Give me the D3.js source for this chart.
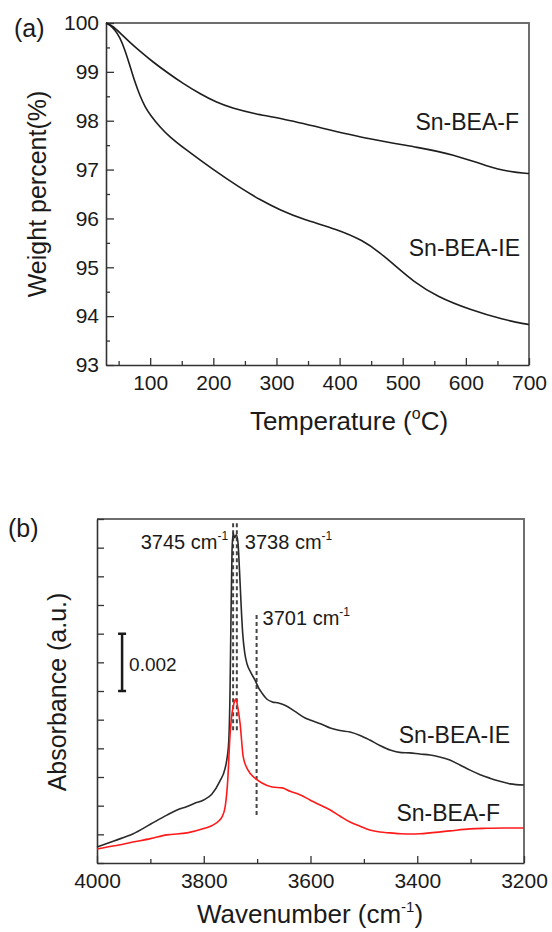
<!DOCTYPE html>
<html>
<head>
<meta charset="utf-8">
<script src="https://cdn.jsdelivr.net/npm/d3@7"></script>
<style>
  body { margin: 0; background: #fff; }
  svg text { font-family: "Liberation Sans", Arial, sans-serif; fill: #1a1a1a; }
</style>
</head>
<body>
<svg width="552" height="932"></svg>
<script>
// ---- panel (a): TGA ----
var tempF = [30, 39.5, 52, 68, 84, 104.5, 126.6, 152, 179, 204, 231, 266, 306, 369, 448, 527, 580, 633, 670, 698.5, 700];
var wtF   = [100, 99.95, 99.8, 99.6, 99.42, 99.2, 98.99, 98.76, 98.55, 98.38, 98.25, 98.14, 98.05, 97.86, 97.62, 97.45, 97.31, 97.07, 96.95, 96.92, 96.92];

var tempIE = [30, 36, 44, 52, 60, 68, 76, 84, 92, 100, 116, 131, 152, 199.5, 242, 274, 306, 342, 396, 437, 464, 491, 516, 554, 607, 659, 697, 700];
var wtIE   = [100, 99.96, 99.86, 99.71, 99.45, 99.12, 98.78, 98.5, 98.28, 98.12, 97.86, 97.67, 97.45, 97.0, 96.63, 96.38, 96.17, 95.98, 95.78, 95.55, 95.3, 95.0, 94.72, 94.4, 94.13, 93.93, 93.83, 93.83];

var tempTicks = [100, 200, 300, 400, 500, 600, 700];
var tempMinor = [50, 150, 250, 350, 450, 550, 650];
var wtTicks = [93, 94, 95, 96, 97, 98, 99, 100];
var wtMinor = [93.5, 94.5, 95.5, 96.5, 97.5, 98.5, 99.5];

// ---- panel (b): FTIR (absorbance in a.u.) ----
var wnIE  = [4000, 3967, 3933, 3900, 3869, 3850, 3831, 3816, 3800, 3785, 3770, 3760, 3756, 3753, 3751, 3749, 3747, 3745, 3742, 3739, 3736, 3733, 3730, 3727, 3723, 3719, 3712, 3704, 3697, 3691, 3682, 3672, 3660, 3648, 3630, 3610, 3601, 3580, 3563, 3545, 3526, 3507, 3489, 3470, 3451, 3430, 3414, 3395, 3376, 3358, 3339, 3320, 3301, 3282, 3264, 3245, 3226, 3200];
var absIE = [0.56, 0.78, 1.01, 1.35, 1.67, 1.85, 1.97, 2.09, 2.2, 2.4, 2.85, 3.3, 3.7, 4.3, 5.7, 8.5, 10.9, 11.5, 11.35, 11.45, 11.2, 10.2, 9.0, 8.0, 7.3, 6.95, 6.65, 6.38, 6.1, 5.93, 5.72, 5.62, 5.58, 5.5, 5.3, 5.06, 4.99, 4.85, 4.71, 4.62, 4.57, 4.45, 4.29, 4.1, 3.94, 3.85, 3.84, 3.8, 3.77, 3.7, 3.59, 3.42, 3.24, 3.08, 2.96, 2.85, 2.76, 2.72];

var wnF  = [4000, 3967, 3933, 3900, 3869, 3831, 3800, 3785, 3770, 3766, 3760, 3755, 3751, 3747, 3743, 3740, 3736, 3732, 3726, 3717, 3704, 3691, 3672, 3653, 3638, 3620, 3601, 3583, 3563, 3545, 3526, 3507, 3489, 3470, 3451, 3430, 3414, 3395, 3376, 3339, 3301, 3270, 3239, 3200];
var absF = [0.49, 0.6, 0.73, 0.85, 0.98, 1.05, 1.2, 1.3, 1.5, 1.6, 1.95, 2.9, 4.39, 5.23, 5.6, 5.72, 5.4, 4.88, 3.7, 3.24, 2.96, 2.79, 2.65, 2.62, 2.5, 2.38, 2.2, 2.03, 1.85, 1.64, 1.43, 1.28, 1.15, 1.08, 1.05, 1.02, 1.01, 1.02, 1.05, 1.12, 1.19, 1.21, 1.22, 1.22];

var wnTicks = [4000, 3800, 3600, 3400, 3200];
var wnMinor = [3900, 3700, 3500, 3300];
var absTicks = d3.range(0, 13); // every 0.001, unlabeled

var peakWn = [3745, 3738, 3701];
var peakLabels = ["3745", "3738", "3701"];
var dashTop = [11.85, 11.85, 8.65];
var dashBottom = [4.53, 4.53, 1.6];

var svg = d3.select('svg');

function frame(x0, x1, y0, y1) {
	svg.append('path')
		.attr('d', `M${x0},${y0}H${x1}V${y1}`)
		.attr('fill', 'none')
		.attr('stroke', '#6e6e6e')
		.attr('stroke-width', 2);
}

function styleAxis(g) {
	g.selectAll('.domain').attr('stroke', '#333').attr('stroke-width', 1.6);
	g.selectAll('.tick line').attr('stroke', '#333').attr('stroke-width', 1.3);
	g.selectAll('.tick text').attr('font-size', 21).attr('font-family', '"Liberation Sans", Arial, sans-serif').attr('fill', '#1a1a1a');
}

// ================= (a) =================
var ax = {left: 106, right: 529, top: 23, bottom: 365};
var xA = d3.scaleLinear().domain([30, 700]).range([ax.left, ax.right]);
var yA = d3.scaleLinear().domain([93, 100]).range([ax.bottom, ax.top]);

frame(ax.left, ax.right, ax.top, ax.bottom);

var gyA = svg.append('g').attr('transform', `translate(${ax.left},0)`)
	.call(d3.axisLeft(yA).tickValues(wtTicks).tickSize(-8).tickSizeOuter(0).tickPadding(7).tickFormat(d3.format('d')));
styleAxis(gyA);
svg.append('g').attr('transform', `translate(${ax.left},0)`)
	.call(d3.axisLeft(yA).tickValues(wtMinor).tickSize(-4).tickFormat(''))
	.call(g => { g.select('.domain').remove(); g.selectAll('line').attr('stroke', '#333').attr('stroke-width', 1.3); });

var gxA = svg.append('g').attr('transform', `translate(0,${ax.bottom})`)
	.call(d3.axisBottom(xA).tickValues(tempTicks).tickSize(-7).tickSizeOuter(0).tickPadding(10));
styleAxis(gxA);
svg.append('g').attr('transform', `translate(0,${ax.bottom})`)
	.call(d3.axisBottom(xA).tickValues(tempMinor).tickSize(-4).tickFormat(''))
	.call(g => { g.select('.domain').remove(); g.selectAll('line').attr('stroke', '#333').attr('stroke-width', 1.3); });

var lineA = d3.line().x(d => xA(d[0])).y(d => yA(d[1])).curve(d3.curveBasis);
svg.append('path').datum(d3.zip(tempF, wtF))
	.attr('d', lineA).attr('fill', 'none').attr('stroke', '#1e1e1e').attr('stroke-width', 1.6);
svg.append('path').datum(d3.zip(tempIE, wtIE))
	.attr('d', lineA).attr('fill', 'none').attr('stroke', '#1e1e1e').attr('stroke-width', 1.6);

svg.append('text').attr('x', 519).attr('y', 130).attr('text-anchor', 'end').attr('font-size', 23).text('Sn-BEA-F');
svg.append('text').attr('x', 520).attr('y', 256).attr('text-anchor', 'end').attr('font-size', 23).text('Sn-BEA-IE');

svg.append('text').attr('x', 14).attr('y', 37).attr('font-size', 25).text('(a)');

svg.append('text')
	.attr('transform', `translate(46,194) rotate(-90)`)
	.attr('text-anchor', 'middle').attr('font-size', 25)
	.text('Weight percent(%)');

var tA = svg.append('text').attr('x', 349).attr('y', 430).attr('text-anchor', 'middle').attr('font-size', 26);
tA.append('tspan').text('Temperature (');
tA.append('tspan').attr('dy', -11).attr('font-size', 16).text('o');
tA.append('tspan').attr('dy', 11).text('C)');

// ================= (b) =================
var bx = {left: 97, right: 524, top: 519, bottom: 863};
var xB = d3.scaleLinear().domain([4000, 3200]).range([bx.left, bx.right]);
var yB = d3.scaleLinear().domain([0, 12]).range([bx.bottom, bx.top]);

frame(bx.left, bx.right, bx.top, bx.bottom);

var gyB = svg.append('g').attr('transform', `translate(${bx.left},0)`)
	.call(d3.axisLeft(yB).tickValues(absTicks).tickSize(-7).tickSizeOuter(0).tickFormat(''));
styleAxis(gyB);

var gxB = svg.append('g').attr('transform', `translate(0,${bx.bottom})`)
	.call(d3.axisBottom(xB).tickValues(wnTicks).tickSize(-7).tickSizeOuter(0).tickPadding(10).tickFormat(d3.format('d')));
styleAxis(gxB);
svg.append('g').attr('transform', `translate(0,${bx.bottom})`)
	.call(d3.axisBottom(xB).tickValues(wnMinor).tickSize(-4).tickFormat(''))
	.call(g => { g.select('.domain').remove(); g.selectAll('line').attr('stroke', '#333').attr('stroke-width', 1.3); });

// dashed peak markers
svg.selectAll('line.peak').data(peakWn).enter().append('line')
	.attr('class', 'peak')
	.attr('x1', d => xB(d)).attr('x2', d => xB(d))
	.attr('y1', (d, i) => yB(dashTop[i])).attr('y2', (d, i) => yB(dashBottom[i]))
	.attr('stroke', '#444').attr('stroke-width', 2).attr('stroke-dasharray', '4,3');

var lineB = d3.line().x(d => xB(d[0])).y(d => yB(d[1])).curve(d3.curveMonotoneX);
svg.append('path').datum(d3.zip(wnIE, absIE))
	.attr('d', lineB).attr('fill', 'none').attr('stroke', '#2a2a2a').attr('stroke-width', 1.6);
svg.append('path').datum(d3.zip(wnF, absF))
	.attr('d', lineB).attr('fill', 'none').attr('stroke', '#ff1a1a').attr('stroke-width', 1.6);

// peak labels
function cmLabel(x, y, num, anchor) {
	var t = svg.append('text').attr('x', x).attr('y', y).attr('font-size', 20).attr('text-anchor', anchor);
	t.append('tspan').text(num + ' cm');
	t.append('tspan').attr('dy', -9).attr('font-size', 12).text('-1');
	return t;
}
cmLabel(xB(peakWn[0]) - 5, 549, peakLabels[0], 'end');
cmLabel(xB(peakWn[1]) + 8, 549, peakLabels[1], 'start');
cmLabel(xB(peakWn[2]) + 6, 625, peakLabels[2], 'start');

// scale bar 0.002
var barX = xB(3953);
svg.append('path')
	.attr('d', `M${barX - 4},${yB(8)}H${barX + 4}M${barX},${yB(8)}V${yB(6)}M${barX - 4},${yB(6)}H${barX + 4}`)
	.attr('stroke', '#1a1a1a').attr('stroke-width', 2.5).attr('fill', 'none');
svg.append('text').attr('x', barX + 7).attr('y', 671).attr('font-size', 19).text('0.002');

svg.append('text').attr('x', 510).attr('y', 743).attr('text-anchor', 'end').attr('font-size', 23).text('Sn-BEA-IE');
svg.append('text').attr('x', 500).attr('y', 821).attr('text-anchor', 'end').attr('font-size', 23).text('Sn-BEA-F');

svg.append('text').attr('x', 8).attr('y', 537).attr('font-size', 25).text('(b)');

svg.append('text')
	.attr('transform', `translate(66,692) rotate(-90)`)
	.attr('text-anchor', 'middle').attr('font-size', 25)
	.text('Absorbance (a.u.)');

var tB = svg.append('text').attr('x', 310).attr('y', 923).attr('text-anchor', 'middle').attr('font-size', 26);
tB.append('tspan').text('Wavenumber (cm');
tB.append('tspan').attr('dy', -11).attr('font-size', 15).text('-1');
tB.append('tspan').attr('dy', 11).text(')');
</script>
</body>
</html>
